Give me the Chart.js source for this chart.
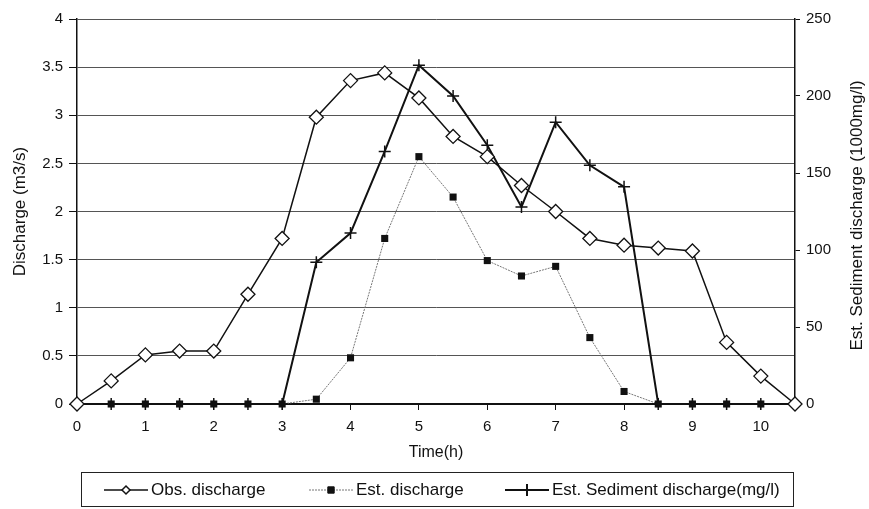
<!DOCTYPE html>
<html>
<head>
<meta charset="utf-8">
<script src="https://cdn.jsdelivr.net/npm/chart.js@4.4.1/dist/chart.umd.min.js"></script>
<style>
  html, body { margin: 0; padding: 0; background: #fff; }
  #wrap { width: 869px; height: 509px; position: relative; }
</style>
</head>
<body>
<div id="wrap"><canvas id="chart" width="869" height="509"></canvas></div>
<script>
// ── Data ──
const hours = [0, 0.5, 1, 1.5, 2, 2.5, 3, 3.5, 4, 4.5, 5, 5.5, 6, 6.5, 7, 7.5, 8, 8.5, 9, 9.5, 10, 10.5];
const obsDischarge = [0, 0.24, 0.51, 0.55, 0.55, 1.14, 1.72, 2.98, 3.36, 3.44, 3.18, 2.78, 2.57, 2.27, 2.0, 1.72, 1.65, 1.62, 1.59, 0.64, 0.29, 0];
const estDischarge = [0, 0, 0, 0, 0, 0, 0, 0.05, 0.48, 1.72, 2.57, 2.15, 1.49, 1.33, 1.43, 0.69, 0.13, 0, 0, 0, 0, 0];
const estSediment  = [0, 0, 0, 0, 0, 0, 0, 92, 111, 164, 220, 200, 168, 128, 183, 155, 141, 0, 0, 0, 0, 0];

const legendLabels = ["Obs. discharge", "Est. discharge", "Est. Sediment discharge(mg/l)"];
const rightTitle = "Est. Sediment discharge (1000mg/l)";

const FONT = "'Liberation Sans', Arial, sans-serif";
Chart.defaults.font.family = FONT;
Chart.defaults.font.size = 15;
Chart.defaults.color = "#111";

const pts = arr => arr.map((v, i) => ({ x: hours[i], y: v }));

// boxed legend row + right axis title (reads bottom-to-top like the left one)
const extras = {
  id: "extras",
  afterDraw(chart) {
    const ctx = chart.ctx;
    const area = chart.chartArea;
    ctx.save();

    ctx.font = "17px " + FONT;
    ctx.fillStyle = "#111";
    ctx.textAlign = "center";
    ctx.textBaseline = "middle";
    ctx.translate(857, (area.top + area.bottom) / 2 + 4);
    ctx.rotate(-Math.PI / 2);
    ctx.fillText(rightTitle, 0, 0);
    ctx.setTransform(1, 0, 0, 1, 0, 0);

    const x0 = 81, y0 = 472, w = 712, h = 34;
    ctx.strokeStyle = "#222";
    ctx.lineWidth = 1;
    ctx.strokeRect(x0 + 0.5, y0 + 0.5, w, h);
    ctx.textAlign = "left";
    const cy = y0 + h / 2 + 1;
    const items = [
      { x: 104, ds: chart.data.datasets[0], r: 4, fill: "#fff" },
      { x: 309, ds: chart.data.datasets[1], r: 4.5, fill: "#111" },
      { x: 505, ds: chart.data.datasets[2], r: 6, fill: "#111" }
    ];
    items.forEach((it, i) => {
      const ds = it.ds;
      ctx.strokeStyle = ds.borderColor;
      ctx.lineWidth = ds.borderWidth;
      ctx.setLineDash(ds.borderDash || []);
      ctx.beginPath();
      ctx.moveTo(it.x, cy);
      ctx.lineTo(it.x + 44, cy);
      ctx.stroke();
      ctx.setLineDash([]);
      ctx.fillStyle = it.fill;
      ctx.strokeStyle = "#111";
      Chart.helpers.drawPoint(ctx, {
        pointStyle: ds.pointStyle,
        radius: it.r,
        borderWidth: 1.3
      }, it.x + 22, cy);
      ctx.fillStyle = "#111";
      ctx.font = "17px " + FONT;
      ctx.fillText(legendLabels[i], it.x + 47, cy);
    });
    ctx.restore();
  }
};

new Chart(document.getElementById("chart"), {
  type: "line",
  data: {
    datasets: [
      {
        label: legendLabels[0],
        data: pts(obsDischarge),
        yAxisID: "y",
        borderColor: "#111",
        borderWidth: 1.5,
        pointStyle: "rectRot",
        pointRadius: 7,
        pointBackgroundColor: "#fff",
        pointBorderColor: "#111",
        pointBorderWidth: 1.3,
        clip: false,
        order: 1
      },
      {
        label: legendLabels[1],
        data: pts(estDischarge),
        yAxisID: "y",
        borderColor: "#777",
        borderWidth: 1,
        borderDash: [2, 1],
        pointStyle: "rect",
        pointRadius: 5,
        pointBackgroundColor: "#111",
        pointBorderColor: "#111",
        pointBorderWidth: 0,
        clip: false,
        order: 3
      },
      {
        label: legendLabels[2],
        data: pts(estSediment),
        yAxisID: "y2",
        borderColor: "#111",
        borderWidth: 2,
        pointStyle: "cross",
        pointRadius: 6,
        pointBorderColor: "#111",
        pointBorderWidth: 1.5,
        clip: false,
        order: 2
      }
    ]
  },
  options: {
    responsive: false,
    animation: false,
    events: [],
    layout: { padding: { top: 19, bottom: 47, left: 0, right: 0 } },
    plugins: { legend: { display: false }, tooltip: { enabled: false } },
    elements: { line: { tension: 0 } },
    scales: {
      x: {
        type: "linear",
        min: 0, max: 10.5,
        afterFit: scale => { scale.height = 58; },
        ticks: { stepSize: 1, includeBounds: false, padding: 8, color: "#111" },
        grid: { drawOnChartArea: false, drawTicks: true, tickLength: 6, color: "#111" },
        border: { color: "#111", width: 2 },
        title: { display: true, text: "Time(h)", padding: { top: 2, bottom: 0 }, font: { size: 16 } }
      },
      y: {
        position: "left",
        min: 0, max: 4,
        afterFit: scale => { scale.width = 77; },
        ticks: { stepSize: 0.5, padding: 6, color: "#111", callback: v => String(v) },
        grid: { color: "#555", lineWidth: 1, drawTicks: true, tickLength: 8, tickColor: "#111" },
        border: { color: "#111", width: 1.5 },
        title: { display: true, text: "Discharge (m3/s)", padding: { top: 10, bottom: 0 }, font: { size: 17 } }
      },
      y2: {
        position: "right",
        min: 0, max: 250,
        afterFit: scale => { scale.width = 74; },
        ticks: { stepSize: 50, padding: 6, color: "#111" },
        grid: { drawOnChartArea: false, drawTicks: true, tickLength: 5, color: "#111" },
        border: { color: "#111", width: 1.5 }
      }
    }
  },
  plugins: [extras]
});
</script>
</body>
</html>
